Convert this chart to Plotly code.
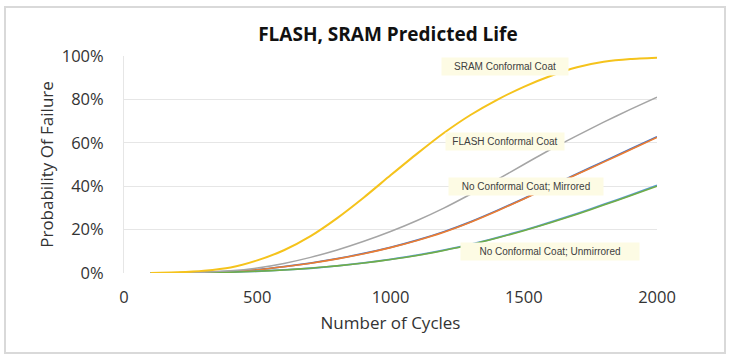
import plotly.graph_objects as go

cycles = [100, 200, 300, 400, 500, 600, 700, 800, 900, 1000,
          1100, 1200, 1300, 1400, 1500, 1600, 1700, 1800, 1900, 2000]

sram_cc = [0.0, 0.3, 1.0, 2.5, 5.8, 10.5, 17.0, 25.3, 34.8, 45.0,
           55.0, 64.5, 72.8, 79.8, 85.8, 90.8, 94.8, 97.3, 98.6, 99.2]
flash_cc = [0.0, 0.1, 0.4, 1.0, 2.3, 4.4, 7.2, 10.6, 14.6, 19.1,
            24.2, 29.9, 36.3, 43.0, 50.0, 56.9, 63.3, 69.5, 75.4, 81.0]
mirrored_a = [0.0, 0.1, 0.3, 0.7, 1.5, 2.9, 4.6, 6.6, 9.0, 11.8,
              15.1, 19.0, 23.6, 28.8, 34.3, 40.0, 45.7, 51.4, 57.1, 62.8]
mirrored_b = [0.0, 0.1, 0.3, 0.7, 1.5, 2.9, 4.5, 6.5, 8.9, 11.7,
              15.0, 18.8, 23.4, 28.6, 34.1, 39.8, 45.5, 51.1, 56.8, 62.5]
unmirrored_a = [0.0, 0.05, 0.15, 0.4, 0.8, 1.4, 2.2, 3.3, 4.7, 6.3,
                8.2, 10.5, 13.2, 16.3, 19.7, 23.4, 27.4, 31.6, 35.9, 40.4]
unmirrored_b = [0.0, 0.05, 0.15, 0.4, 0.8, 1.4, 2.2, 3.3, 4.6, 6.2,
                8.1, 10.4, 13.0, 16.1, 19.5, 23.2, 27.1, 31.3, 35.6, 40.0]

y_ticks = [0, 0.2, 0.4, 0.6, 0.8, 1.0]
x_ticks = [0, 500, 1000, 1500, 2000]

series = [
    ("Mirrored A", mirrored_a, "#4472C4", 1.8),
    ("Mirrored B", mirrored_b, "#ED7D31", 1.6),
    ("Unmirrored A", unmirrored_a, "#5B9BD5", 1.8),
    ("Unmirrored B", unmirrored_b, "#70AD47", 1.6),
    ("FLASH Conformal Coat", flash_cc, "#A5A5A5", 1.5),
    ("SRAM Conformal Coat", sram_cc, "#F5C31C", 2.0),
]

fig = go.Figure()
for name, vals, color, w in series:
    fig.add_trace(go.Scatter(
        x=cycles, y=[v / 100 for v in vals], mode="lines", name=name,
        line=dict(color=color, width=w, shape="spline", smoothing=0.6),
        showlegend=False, hoverinfo="skip"))

labels = [
    ("SRAM Conformal Coat", 1429, 0.95, 124),
    ("FLASH Conformal Coat", 1429, 0.605, 116),
    ("No Conformal Coat; Mirrored", 1510, 0.397, 152),
    ("No Conformal Coat; Unmirrored", 1598, 0.097, 176),
]
for text, x, y, w in labels:
    fig.add_annotation(x=x, y=y, text=text, showarrow=False, width=w, height=15,
                       bgcolor="#FDFBE4", borderpad=1,
                       font=dict(family="Liberation Sans", size=10, color="#404040"))

fig.add_shape(type="rect", xref="paper", yref="paper",
              x0=-0.2233, x1=1.1276, y0=-0.3687, y1=1.2258,
              line=dict(color="#D9D9D9", width=2), fillcolor="rgba(0,0,0,0)", layer="below")

fig.update_layout(
    width=732, height=358,
    margin=dict(l=124, r=75, t=56, b=85),
    paper_bgcolor="white", plot_bgcolor="white",
    title=dict(text="<b>FLASH, SRAM Predicted Life</b>", x=0.53, xanchor="center",
               y=0.905, yanchor="middle",
               font=dict(family="Open Sans", size=19, color="#111111")),
    xaxis=dict(range=[0, 2000], tickvals=x_ticks, showgrid=False, zeroline=False,
               showline=False, ticks="", ticklabelstandoff=12,
               tickfont=dict(family="Open Sans", size=16.5, color="#333333"),
               title=dict(text="Number of Cycles", standoff=10,
                          font=dict(family="Open Sans", size=17, color="#333333"))),
    yaxis=dict(range=[0, 1.0], tickvals=y_ticks, tickformat=".0%", showgrid=True,
               gridcolor="#E6E6E6", gridwidth=1, zeroline=False,
               showline=True, linecolor="#E6E6E6", linewidth=1, ticks="",
               ticklabelstandoff=16,
               tickfont=dict(family="Open Sans", size=16.5, color="#333333"),
               title=dict(text="Probability Of Failure", standoff=3,
                          font=dict(family="Open Sans", size=17, color="#333333"))),
)

fig.write_html("out.html", post_script="document.body.style.margin='0';",
               config={"displayModeBar": False})
